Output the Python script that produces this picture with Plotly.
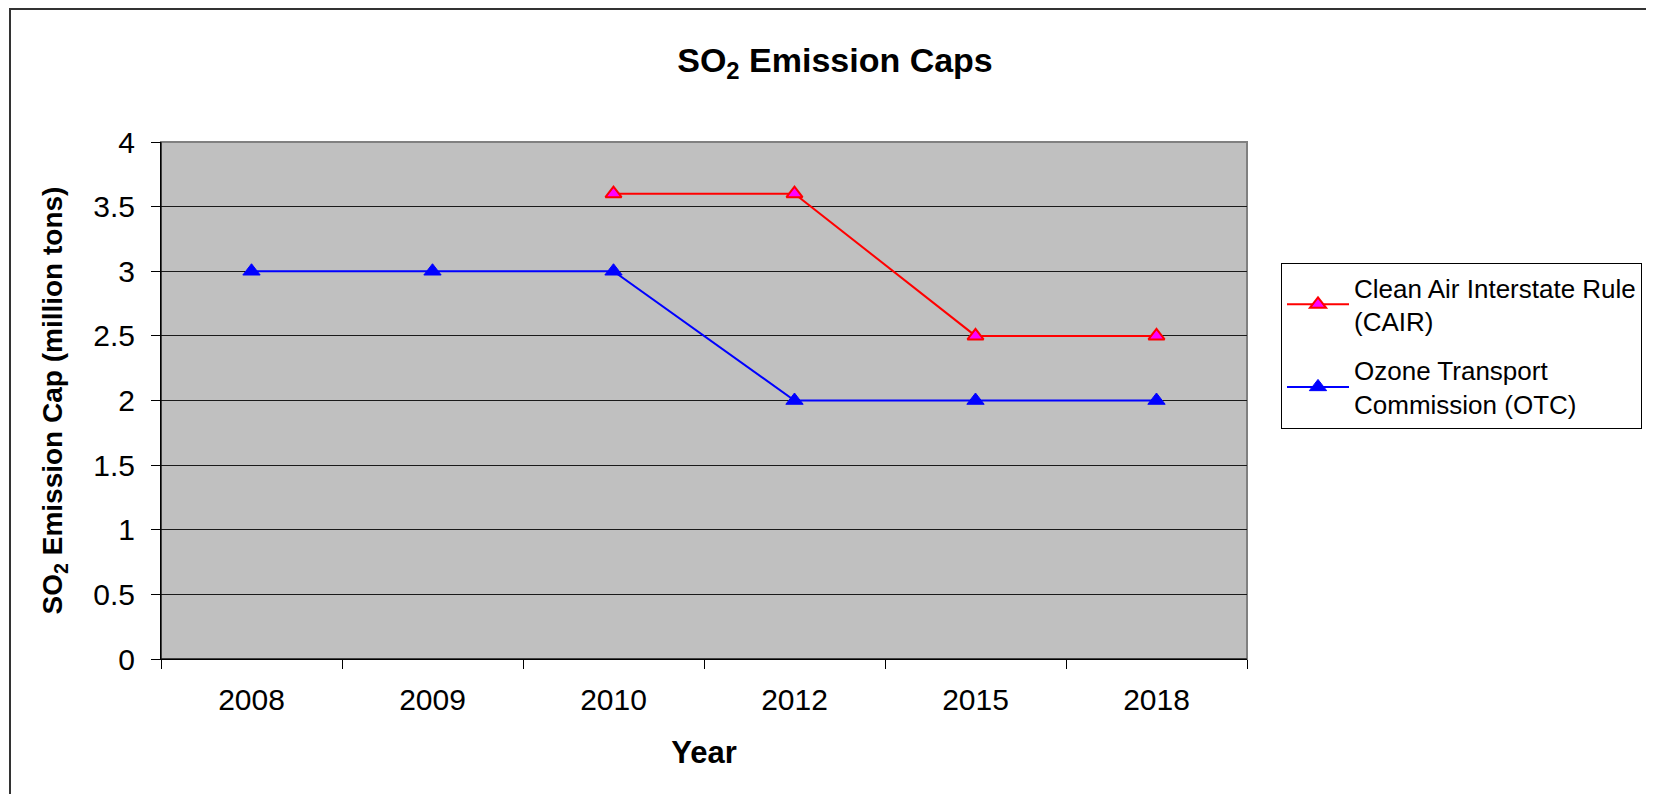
import plotly.graph_objects as go

years = ["2008", "2009", "2010", "2012", "2015", "2018"]
cair = [None, None, 3.6, 3.6, 2.5, 2.5]
otc = [3.0, 3.0, 3.0, 2.0, 2.0, 2.0]
y_ticks = [0, 0.5, 1, 1.5, 2, 2.5, 3, 3.5, 4]

FONT = "Arial, 'Liberation Sans', sans-serif"

fig = go.Figure()
fig.add_trace(go.Scatter(
    x=years, y=cair, mode="lines+markers",
    name="Clean Air Interstate Rule<br>(CAIR)",
    legendgroup="cair",
    line=dict(color="#FF0000", width=2),
    marker=dict(symbol="triangle-up", size=14, color="#FF00FF",
                line=dict(color="#FF0000", width=2)),
))
fig.add_trace(go.Scatter(
    x=years, y=otc, mode="lines+markers",
    name="Ozone Transport<br>Commission (OTC)",
    legendgroup="otc",
    line=dict(color="#0000FF", width=2),
    marker=dict(symbol="triangle-up", size=15, color="#0000FF",
                line=dict(color="#0000FF", width=1)),
))

# page has an 8px body margin; figure coordinates below are page - 8
W, H = 1646, 786
L, R, T, B = 153, 1239, 134, 651
pw, ph = R - L, B - T


def px(x):
    return (x - L) / pw


def py(y):
    return (B - y) / ph


fig.update_layout(
    width=W, height=H,
    margin=dict(l=L, r=W - R, t=T, b=H - B, autoexpand=False),
    paper_bgcolor="white",
    plot_bgcolor="#C0C0C0",
    font=dict(family=FONT, color="black"),
    title=dict(
        text="SO<sub>2</sub> Emission Caps",
        x=827 / W, xanchor="center",
        y=1 - 52 / H, yanchor="middle",
        font=dict(size=34, weight="bold", family=FONT, color="black"),
    ),
    xaxis=dict(
        type="category", range=[-0.5, 5.5],
        tickson="boundaries", ticks="outside", ticklen=9, tickcolor="black",
        tickfont=dict(size=30), ticklabelstandoff=14,
        showgrid=False, showline=True, linecolor="black", linewidth=1,
        title=dict(text="Year", font=dict(size=31, weight="bold"), standoff=26),
        fixedrange=True,
    ),
    yaxis=dict(
        range=[0, 4], tickvals=y_ticks,
        ticks="outside", ticklen=9, tickcolor="black",
        tickfont=dict(size=30), ticklabelstandoff=10,
        showgrid=True, gridcolor="#1a1a1a", gridwidth=1,
        zeroline=False,
        showline=True, linecolor="black", linewidth=1,
        title=dict(text="SO<sub>2</sub> Emission Cap (million tons)",
                   font=dict(size=28, weight="bold"), standoff=22),
        fixedrange=True,
    ),
    legend=dict(
        x=px(1273), y=py(255), xanchor="left", yanchor="top",
        bgcolor="white", bordercolor="black", borderwidth=1,
        font=dict(size=26, family=FONT, color="black"),
        tracegroupgap=12, itemwidth=62,
    ),
    showlegend=True,
    shapes=[
        dict(type="rect", xref="paper", yref="paper",
             x0=0, x1=1, y0=0, y1=1,
             line=dict(color="#808080", width=2), layer="between"),
        dict(type="line", xref="paper", yref="paper",
             x0=0, x1=0, y0=0, y1=1,
             line=dict(color="black", width=1), layer="above"),
        dict(type="line", xref="paper", yref="paper",
             x0=0, x1=1, y0=0, y1=0,
             line=dict(color="black", width=1), layer="above"),
        dict(type="rect", xref="paper", yref="paper",
             x0=px(2), x1=px(1640), y0=py(1), y1=py(820),
             line=dict(color="#333333", width=2), layer="above"),
    ],
)

fig.write_html("out.html")
